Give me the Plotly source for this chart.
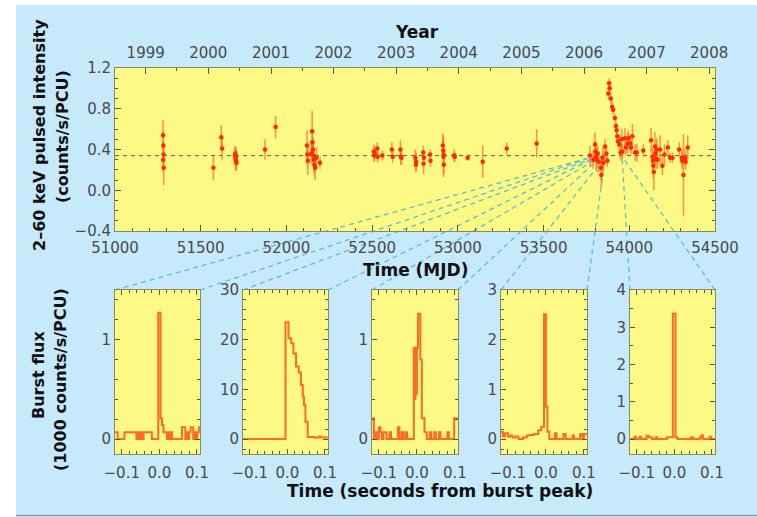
import plotly.graph_objects as go

# ---------------- data ----------------
# Top panel: pulsed intensity vs MJD (value, 1-sigma error)
mjd = [51280, 51282, 51283, 51281, 51284,
       51574, 51620, 51625,
       51700, 51703, 51705, 51707, 51709, 51702,
       51875, 51937,
       52120, 52122, 52125, 52145, 52150, 52152, 52155, 52158, 52160, 52163, 52168, 52175, 52196,
       52510, 52512, 52515, 52530, 52532, 52560, 52615, 52620,
       52665, 52668, 52671, 52752, 52755, 52757, 52798, 52800, 52802,
       52838, 52840, 52912, 52915, 52917, 52916, 52918, 52978, 52982,
       53057, 53145, 53285, 53460,
       53771, 53790, 53800, 53803, 53806, 53810, 53815, 53822, 53835, 53837, 53845, 53849, 53859, 53866, 53872,
       53878, 53882, 53886, 53892, 53900, 53906, 53916, 53922, 53926, 53930, 53934,
       53942, 53950, 53956, 53960, 53975, 53980, 53991, 53995, 54005, 54010, 54018, 54034, 54044, 54082,
       54127, 54135, 54138, 54140, 54143, 54150, 54153, 54156, 54160, 54165, 54180, 54193, 54205, 54225, 54238, 54252,
       54291, 54306, 54309, 54316, 54326, 54329, 54341]
flux = [0.54, 0.44, 0.35, 0.30, 0.22,
        0.22, 0.52, 0.41,
        0.34, 0.31, 0.29, 0.33, 0.27, 0.36,
        0.40, 0.62,
        0.44, 0.35, 0.29, 0.36, 0.58, 0.47, 0.40, 0.34, 0.30, 0.25, 0.22, 0.32, 0.27,
        0.38, 0.34, 0.36, 0.41, 0.33, 0.34, 0.40, 0.33,
        0.40, 0.33, 0.32, 0.32, 0.25, 0.28, 0.37, 0.26, 0.32,
        0.35, 0.29, 0.44, 0.39, 0.35, 0.33, 0.25, 0.34, 0.33,
        0.32, 0.28, 0.41, 0.46,
        0.34, 0.30, 0.45, 0.38, 0.33, 0.30, 0.36, 0.28, 0.22, 0.15, 0.32, 0.27, 0.43, 0.36, 0.29,
        0.95, 1.05, 1.00, 0.90, 0.82, 0.79, 0.71, 0.63, 0.59, 0.53, 0.48,
        0.45, 0.37, 0.50, 0.38, 0.51, 0.42, 0.46, 0.51, 0.46, 0.42, 0.53, 0.37, 0.37, 0.39,
        0.49, 0.33, 0.29, 0.24, 0.18, 0.43, 0.36, 0.31, 0.40, 0.30, 0.40, 0.24, 0.35, 0.42, 0.32, 0.32,
        0.40, 0.32, 0.29, 0.15, 0.32, 0.28, 0.42]
err = [0.15, 0.14, 0.13, 0.12, 0.17,
       0.12, 0.12, 0.11,
       0.09, 0.08, 0.10, 0.09, 0.08, 0.07,
       0.10, 0.11,
       0.15, 0.12, 0.14, 0.10, 0.20, 0.13, 0.12, 0.11, 0.12, 0.10, 0.12, 0.10, 0.06,
       0.07, 0.06, 0.07, 0.06, 0.06, 0.05, 0.07, 0.06,
       0.09, 0.08, 0.07, 0.08, 0.07, 0.09, 0.07, 0.10, 0.06,
       0.05, 0.06, 0.12, 0.10, 0.10, 0.20, 0.09, 0.06, 0.05,
       0.03, 0.16, 0.06, 0.14,
       0.10, 0.09, 0.12, 0.10, 0.10, 0.12, 0.08, 0.10, 0.12, 0.12, 0.10, 0.09, 0.07, 0.08, 0.06,
       0.05, 0.05, 0.05, 0.05, 0.05, 0.05, 0.04, 0.05, 0.05, 0.05, 0.05,
       0.10, 0.08, 0.10, 0.07, 0.10, 0.08, 0.10, 0.08, 0.08, 0.07, 0.12, 0.08, 0.09, 0.06,
       0.12, 0.09, 0.10, 0.12, 0.18, 0.14, 0.10, 0.10, 0.11, 0.09, 0.14, 0.09, 0.10, 0.07, 0.05, 0.05,
       0.07, 0.08, 0.08, 0.40, 0.08, 0.08, 0.12]
mean_level = 0.34

year_labels = ["1999", "2000", "2001", "2002", "2003", "2004", "2005", "2006", "2007", "2008"]
year_mjd = [51179, 51544, 51910, 52275, 52640, 53005, 53371, 53736, 54101, 54466]
halfyear_mjd = [51361, 51727, 52092, 52457, 52822, 53188, 53553, 53918, 54283]

# Burst epochs (MJD) linked to the lower panels
burst_mjd = [53790, 53812, 53835, 53860, 53958]
burst_level = 0.33

# Burst light curves (step change points: time from peak [s], flux [1000 counts/s/PCU])
t1 = [-0.118, -0.111, -0.093, -0.061, -0.057, -0.053, -0.049, -0.045, -0.042, -0.020, -0.003,
      0.003, 0.007, 0.011, 0.020, 0.025, 0.028, 0.031, 0.034, 0.060, 0.069, 0.072, 0.076, 0.079,
      0.083, 0.090, 0.094, 0.097, 0.101, 0.105, 0.108]
f1 = [0.07, 0.0, 0.07, 0.0, 0.07, 0.0, 0.07, 0.0, 0.07, 0.0, 1.27,
      0.21, 0.14, 0.07, 0.0, 0.07, 0.0, 0.07, 0.0, 0.12, 0.0, 0.07, 0.0, 0.07,
      0.12, 0.0, 0.07, 0.0, 0.07, 0.12, 0.12]
t2 = [-0.118, -0.005, 0.003, 0.010, 0.016, 0.023, 0.030, 0.036, 0.041, 0.044, 0.048, 0.054,
      0.070, 0.085, 0.090, 0.108]
f2 = [0.0, 23.5, 20.3, 19.3, 17.2, 14.6, 13.4, 10.9, 8.5, 6.8, 3.5, 0.4,
      0.3, 0.5, 0.3, 0.3]
t3 = [-0.118, -0.113, -0.108, -0.104, -0.100, -0.096, -0.092, -0.088, -0.080, -0.072, -0.068,
      -0.050, -0.046, -0.040, -0.036, -0.030, -0.026, -0.008, -0.006, -0.004, -0.002, 0.000,
      0.003, 0.009, 0.013, 0.020, 0.026, 0.034, 0.038, 0.046, 0.050, 0.058, 0.062, 0.080,
      0.084, 0.098, 0.108]
f3 = [0.21, 0.0, 0.07, 0.0, 0.12, 0.07, 0.0, 0.07, 0.0, 0.07, 0.0,
      0.12, 0.0, 0.07, 0.0, 0.07, 0.0, 0.92, 0.40, 0.92, 0.45, 0.92,
      1.26, 0.80, 0.21, 0.07, 0.0, 0.07, 0.0, 0.07, 0.0, 0.07, 0.0, 0.07,
      0.0, 0.21, 0.21]
t4 = [-0.118, -0.113, -0.108, -0.100, -0.094, -0.088, -0.080, -0.072, -0.060, -0.050, -0.044,
      -0.032, -0.020, -0.012, -0.005, 0.000, 0.004, 0.009, 0.024, 0.028, 0.046, 0.052, 0.070,
      0.074, 0.090, 0.096, 0.100, 0.108]
f4 = [0.15, 0.05, 0.12, 0.05, 0.07, 0.03, 0.05, 0.0, 0.03, 0.07, 0.08,
      0.10, 0.18, 0.25, 2.51, 0.65, 0.15, 0.0, 0.12, 0.0, 0.10, 0.0, 0.07,
      0.0, 0.10, 0.0, 0.10, 0.10]
t5 = [-0.118, -0.106, -0.102, -0.092, -0.088, -0.074, -0.068, -0.060, -0.050, -0.046, -0.020,
      -0.004, 0.003, 0.008, 0.045, 0.050, 0.068, 0.072, 0.076, 0.094, 0.098, 0.108]
f5 = [0.0, 0.06, 0.0, 0.06, 0.0, 0.09, 0.05, 0.0, 0.05, 0.0, 0.05,
      3.37, 0.05, 0.0, 0.05, 0.0, 0.05, 0.10, 0.0, 0.06, 0.0, 0.0]
burst_t = [t1, t2, t3, t4, t5]
burst_f = [f1, f2, f3, f4, f5]
burst_ymax = [1.5, 30, 1.5, 3, 4]
burst_dtick = [1, 10, 1, 1, 1]
burst_minor = [0.2, 2, 0.2, 0.2, 0.5]

# ---------------- style / layout ----------------
W, H = 757, 517
def PX(p): return p / W
def PY(p): return 1 - p / H

BLUE = "#c6e9fb"
YELLOW = "#fcfa84"
FONT = "DejaVu Sans"
TICKC = "#4a4a4a"
top_xdom = [PX(115), PX(715)]
top_ydom = [PY(231), PY(68)]
top_xr = [51000, 54500]
top_yr = [-0.4, 1.2]
bot_ydom = [PY(454), PY(290)]
bot_px = [(115, 200), (243, 328), (372, 458), (501, 587), (630, 715)]
bot_xr = [-0.118, 0.108]

fig = go.Figure()

fig.add_trace(go.Scatter(x=top_xr, y=[mean_level, mean_level], mode="lines",
                         line=dict(color="#555555", width=1, dash="4px,4px"),
                         xaxis="x", yaxis="y", hoverinfo="skip", showlegend=False))
fig.add_trace(go.Scatter(x=mjd, y=flux, mode="markers",
                         error_y=dict(type="data", array=err, color="rgba(255,110,50,0.75)",
                                      thickness=1.5, width=0),
                         marker=dict(color="#ff2a00", size=4.5),
                         xaxis="x", yaxis="y", showlegend=False))
fig.add_trace(go.Scatter(x=year_mjd, y=[mean_level] * len(year_mjd), mode="markers",
                         marker=dict(opacity=0), xaxis="x2", yaxis="y",
                         hoverinfo="skip", showlegend=False))

TICKCOL = "#555555"
ax_common = dict(showgrid=False, zeroline=False, ticks="inside", tickcolor=TICKCOL,
                 showline=True, linecolor="#8a8a60", linewidth=1, automargin=False,
                 tickfont=dict(family=FONT, size=15, color=TICKC))

layout = dict(
    width=W, height=H, margin=dict(l=0, r=0, t=0, b=0, pad=0), autosize=False,
    paper_bgcolor=BLUE, plot_bgcolor=YELLOW, showlegend=False,
    xaxis=dict(domain=top_xdom, anchor="y", range=top_xr, dtick=500, tick0=51000,
               tickformat="d", ticklen=6, mirror=True, ticklabelstandoff=3,
               minor=dict(dtick=100, ticklen=3, ticks="inside", tickcolor=TICKCOL),
               **ax_common),
    xaxis2=dict(overlaying="x", side="top", anchor="y", range=top_xr, tickmode="array",
                tickvals=year_mjd, ticktext=year_labels, ticklen=6, ticklabelstandoff=6,
                minor=dict(tickmode="array", tickvals=halfyear_mjd, ticklen=3,
                           ticks="inside", tickcolor=TICKCOL),
                showgrid=False, zeroline=False, ticks="inside", tickcolor=TICKCOL,
                showline=False, automargin=False,
                tickfont=dict(family=FONT, size=15, color=TICKC)),
    yaxis=dict(domain=top_ydom, anchor="x", range=top_yr, dtick=0.4, tick0=0,
               tickformat=".1f", ticklen=6, mirror="ticks",
               minor=dict(dtick=0.1, ticklen=3, ticks="inside", tickcolor=TICKCOL),
               **ax_common),
)

shapes = []
for k in range(5):
    xa = "x%d" % (k + 3)
    ya = "y%d" % (k + 3)
    fig.add_trace(go.Scatter(x=burst_t[k], y=burst_f[k], mode="lines", line_shape="hv",
                             line=dict(color="#ff6a28", width=2),
                             xaxis=xa, yaxis=ya, showlegend=False))
    x0p, x1p = bot_px[k]
    layout["xaxis%d" % (k + 3)] = dict(
        domain=[PX(x0p), PX(x1p)], anchor=ya, range=bot_xr, tickmode="array",
        tickvals=[-0.1, 0.0, 0.1], ticktext=["\u22120.1", "0.0", "0.1"], ticklen=5,
        mirror="ticks", ticklabelstandoff=5,
        minor=dict(tickmode="linear", tick0=0, dtick=0.02, ticklen=3, ticks="inside",
                   tickcolor=TICKCOL),
        **ax_common)
    ymax = burst_ymax[k]
    layout["yaxis%d" % (k + 3)] = dict(
        domain=bot_ydom, anchor=xa, range=[-0.1 * ymax, ymax], dtick=burst_dtick[k], tick0=0,
        tickformat="d", ticklen=5, mirror="ticks",
        minor=dict(dtick=burst_minor[k], tick0=0, ticklen=3, ticks="inside",
                   tickcolor=TICKCOL),
        **ax_common)
    bx = top_xdom[0] + (burst_mjd[k] - top_xr[0]) / (top_xr[1] - top_xr[0]) * (top_xdom[1] - top_xdom[0])
    by = top_ydom[0] + (burst_level - top_yr[0]) / (top_yr[1] - top_yr[0]) * (top_ydom[1] - top_ydom[0])
    for cx in (PX(x0p), PX(x1p)):
        shapes.append(dict(type="line", xref="paper", yref="paper", x0=cx, y0=bot_ydom[1],
                           x1=bx, y1=by, layer="below",
                           line=dict(color="#5bbfd0", width=1.3, dash="5px,4px")))

shapes.append(dict(type="rect", xref="paper", yref="paper", x0=0, x1=PX(16), y0=0, y1=1,
                   fillcolor="white", line=dict(width=0), layer="below"))
shapes.append(dict(type="rect", xref="paper", yref="paper", x0=0, x1=1, y0=PY(5), y1=1,
                   fillcolor="white", line=dict(width=0), layer="below"))
shapes.append(dict(type="line", xref="paper", yref="paper", x0=PX(16), x1=1, y0=PY(515.5), y1=PY(515.5),
                   line=dict(color="#8a9aa6", width=1.5), layer="below"))
layout["shapes"] = shapes

TF = dict(family=FONT, size=17, color="#111111")
YF = dict(family=FONT, size=16, color="#111111")
def ann(text, px, py, font, angle=0):
    return dict(text=text, x=PX(px), y=PY(py), xref="paper", yref="paper", showarrow=False,
                xanchor="center", yanchor="middle", textangle=angle, font=font)

layout["annotations"] = [
    ann("<b>Year</b>", 417, 32, TF),
    ann("<b>Time (MJD)</b>", 415, 270, TF),
    ann("<b>Time (seconds from burst peak)</b>", 440, 491, TF),
    ann("<b>2\u201360 keV pulsed intensity</b>", 40, 135, YF, -90),
    ann("<b>(counts/s/PCU)</b>", 62, 137, YF, -90),
    ann("<b>Burst flux</b>", 38, 375, YF, -90),
    ann("<b>(1000 counts/s/PCU)</b>", 60, 380, YF, -90),
]

fig.update_layout(**layout)
fig.write_html("out.html", config={"displayModeBar": False},
               post_script="document.body.style.margin='0px';document.body.style.overflow='hidden';")
